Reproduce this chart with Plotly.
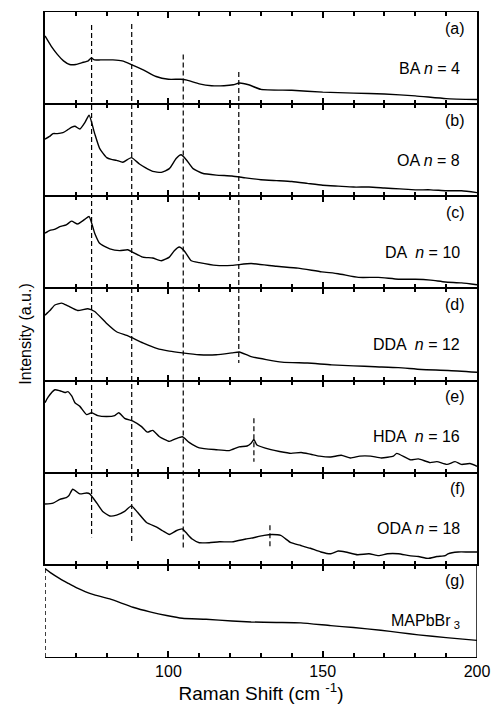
import plotly.graph_objects as go
from plotly.subplots import make_subplots

# ---------------- data (intensity in a.u., each panel scaled 0-100) ----------------
x_a = [60, 62, 64, 66, 68, 70, 72, 74, 75, 76, 78, 82, 85, 88, 92, 96, 100, 104, 106, 110, 114, 118, 121, 123, 126, 130, 140, 150, 160, 170, 180, 190, 200]
y_a = [74, 63, 54, 47, 43, 43, 45, 47, 50, 48, 48, 48, 47, 43, 37, 30, 27, 27, 26, 22, 20, 20, 21, 23, 21, 16, 15, 13, 12, 11, 9, 6, 5]

x_b = [60, 61.5, 62.6, 64, 65.8, 67.3, 68.7, 69.7, 71.3, 72.9, 74.3, 76.1, 77.7, 80, 81.5, 83.2, 85.2, 88, 90.6, 92.5, 94.9, 97.7, 100.3, 102.5, 104.1, 105.7, 108, 111, 115.5, 120.6, 125, 130, 135, 140, 145, 150, 155, 160, 165, 170, 175, 180, 185, 190, 195, 200]
y_b = [62, 65, 68, 68, 69, 72, 75, 76, 73, 80, 88, 68, 52, 42, 40, 39, 37, 42, 35, 31, 27, 26, 30, 41, 45, 40, 30, 25, 23, 22, 20, 18, 17, 16, 14, 12, 11, 10, 10, 9, 8, 7, 7, 6, 6, 4]

x_c = [60, 61.6, 63, 64.8, 66.9, 68.6, 70.6, 72.9, 74.3, 76.1, 77.7, 81, 84.2, 86.8, 88.5, 91.7, 94.9, 97.7, 100.3, 101.9, 103.5, 105.1, 107.4, 110, 115.5, 120.6, 126.8, 135, 142, 149.7, 155, 161.6, 168, 174.5, 180, 185, 189.7, 195, 200]
y_c = [60, 63, 64, 67, 69, 73, 70, 75, 78, 60, 49, 43, 41, 42, 39, 34, 33, 30, 34, 41, 45, 41, 30, 28, 25, 25, 27, 24, 22, 18, 16, 12, 12, 10, 10, 9, 7, 6, 4]

x_d = [60, 61.6, 63.2, 65.4, 67.4, 70.6, 73.9, 76.1, 80, 83.2, 86.5, 88.5, 91.7, 96.2, 100.3, 104.5, 110, 115.5, 120.6, 123, 126.8, 136.8, 145, 152.9, 160, 167, 174.5, 182, 190.6, 200]
y_d = [71, 76, 82, 84, 81, 76, 78, 75, 62, 53, 49, 46, 41, 35, 32, 30, 28, 28, 30, 31, 26, 20, 19, 17, 16, 15, 14, 12, 11, 9]

x_e = [60, 61, 63.2, 64.8, 66.5, 67.4, 68.7, 69.7, 71.3, 73.5, 75.1, 77.1, 80, 82.6, 83.9, 85.8, 88.5, 91.3, 93.2, 94.9, 97.1, 100.3, 102.5, 104.5, 106.7, 110, 115.5, 119.7, 122.9, 125.5, 126.8, 127.7, 128.7, 133.2, 136, 139.7, 143, 146.1, 149, 152.6, 156, 159, 162, 165.5, 169, 172.9, 174, 178.4, 181, 184.8, 187, 190.3, 192.9, 195, 197.7, 200]
y_e = [76, 82, 90, 89, 87, 88, 83, 76, 72, 63, 65, 62, 61, 62, 65, 59, 56, 50, 44, 46, 39, 34, 37, 39, 33, 27, 25, 24, 28, 29, 32, 36, 30, 25, 23, 21, 22, 20, 18, 17, 19, 16, 18, 18, 16, 18, 21, 14, 15, 11, 12, 9, 12, 9, 10, 7]

x_f = [60, 62.6, 64.8, 66.9, 67.7, 69, 71.3, 73.5, 74.5, 76.8, 78.7, 81, 83.2, 85.8, 88, 90, 92.9, 96.2, 98.1, 100.3, 102.5, 104.5, 105.7, 107.7, 110, 113.2, 116.5, 120.6, 125.1, 126.8, 131, 133.5, 136.4, 139.7, 142.9, 146, 149.4, 152.6, 155, 157.4, 161.3, 165, 168.1, 171, 174.5, 178, 181, 184.2, 187, 189.7, 190.6, 193.9, 197.1, 200]
y_f = [66, 67, 71, 73, 75, 82, 77, 78, 77, 67, 58, 53, 54, 58, 64, 57, 46, 41, 37, 33, 37, 39, 35, 28, 24, 24, 25, 25, 28, 29, 32, 33, 32, 24, 21, 18, 14, 12, 15, 14, 11, 12, 10, 12, 12, 10, 9, 7, 9, 10, 12, 14, 14, 14]

x_g = [60, 62, 64.8, 67.5, 70.3, 73, 75.5, 81, 88.5, 94, 99.4, 104.5, 112.2, 120.6, 126.8, 135, 142.9, 152.6, 160, 168.8, 175, 181, 190, 200]
y_g = [96, 91, 85, 80, 75, 71, 68, 63, 54, 49, 45, 42, 41, 39, 38, 37.5, 37, 34, 32, 29, 26.5, 24, 21, 18]

series_x = [x_a, x_b, x_c, x_d, x_e, x_f, x_g]
series_y = [y_a, y_b, y_c, y_d, y_e, y_f, y_g]
panel_tags = ["(a)", "(b)", "(c)", "(d)", "(e)", "(f)", "(g)"]
panel_names = ["BA <i>n</i> = 4", "OA <i>n</i> = 8", "DA  <i>n</i> = 10", "DDA  <i>n</i> = 12",
               "HDA  <i>n</i> = 16", "ODA <i>n</i> = 18", "MAPbBr<sub> 3</sub>"]

# dashed guide lines: position (cm-1), (start panel, intensity), (end panel, intensity)
guide_pos = [75.1, 88.1, 104.8, 122.8, 127.7, 132.9]
guide_start = [(0, 86), (0, 87), (0, 54), (0, 35), (4, 59), (5, 43)]
guide_end = [(5, 30), (5, 23), (5, 18), (3, 19), (4, 12), (5, 20)]

x_major_step = 50
x_minor_step = 10

# ---------------- figure ----------------
N = 7
fig = make_subplots(rows=N, cols=1, shared_xaxes=True, vertical_spacing=0)
FONT = "Arial, Liberation Sans, sans-serif"

for i in range(N):
    fig.add_trace(go.Scatter(x=series_x[i], y=series_y[i], mode="lines",
                             line=dict(color="black", width=1.4, shape="spline", smoothing=0.5),
                             showlegend=False, hoverinfo="skip"), row=i + 1, col=1)

for i in range(N):
    fig.update_xaxes(row=i + 1, col=1, range=[60, 200], showline=True, linecolor="black",
                     linewidth=1, mirror="ticks", ticks="inside", ticklen=6, tickwidth=1.5,
                     tickcolor="black", dtick=x_major_step, tick0=0,
                     minor=dict(dtick=x_minor_step, ticks="inside", ticklen=4,
                                tickwidth=1.5, tickcolor="black"),
                     showticklabels=(i == N - 1))
    fig.update_yaxes(row=i + 1, col=1, range=[0, 100], showline=(i != N - 1), linecolor="black",
                     linewidth=1.5, mirror=True, ticks="", showticklabels=False)

fig.update_xaxes(row=N, col=1, title=dict(text="Raman Shift (cm <sup>-1</sup>)", standoff=2))

# panel g: solid right edge, dashed left edge
fig.add_shape(type="line", xref="x7", yref="y7 domain", x0=200, x1=200, y0=0, y1=1,
              opacity=1, line=dict(color="black", width=1.5))
fig.add_shape(type="line", xref="x7", yref="y7 domain", x0=60, x1=60, y0=0, y1=1,
              opacity=1, line=dict(color="black", width=1.5, dash="4px,3px"))

# dashed guides (span panels) -> paper coordinates from panel domain
def to_paper(panel, val):
    lo = 1 - (panel + 1) / N
    return lo + (val / 100.0) / N

for p, s, e in zip(guide_pos, guide_start, guide_end):
    fig.add_shape(type="line", xref="x", yref="paper", x0=p, x1=p,
                  y0=to_paper(*s), y1=to_paper(*e), opacity=1,
                  line=dict(color="black", width=1.2, dash="5px,3px"))

for i in range(N):
    yr = "y domain" if i == 0 else f"y{i + 1} domain"
    xr = "x domain" if i == 0 else f"x{i + 1} domain"
    fig.add_annotation(text=panel_tags[i], xref=xr, yref=yr, x=0.978, y=0.825,
                       xanchor="right", yanchor="middle", showarrow=False,
                       font=dict(family=FONT, size=16, color="black"))
    fig.add_annotation(text=panel_names[i], xref=xr, yref=yr, x=0.965, y=0.39,
                       xanchor="right", yanchor="middle", showarrow=False,
                       font=dict(family=FONT, size=16, color="black"))

fig.add_annotation(text="Intensity (a.u.)", xref="paper", yref="paper", x=-0.046, y=0.5,
                   textangle=-90, xanchor="center", yanchor="middle", showarrow=False,
                   font=dict(family=FONT, size=16, color="black"))

fig.update_layout(template="simple_white", width=501, height=707,
                  margin=dict(l=45, r=23, t=11, b=49), showlegend=False,
                  plot_bgcolor="white", paper_bgcolor="white",
                  font=dict(family=FONT, size=16, color="black"))

fig.write_html("out.html", config={"displayModeBar": False},
               post_script="document.body.style.margin='0';")
